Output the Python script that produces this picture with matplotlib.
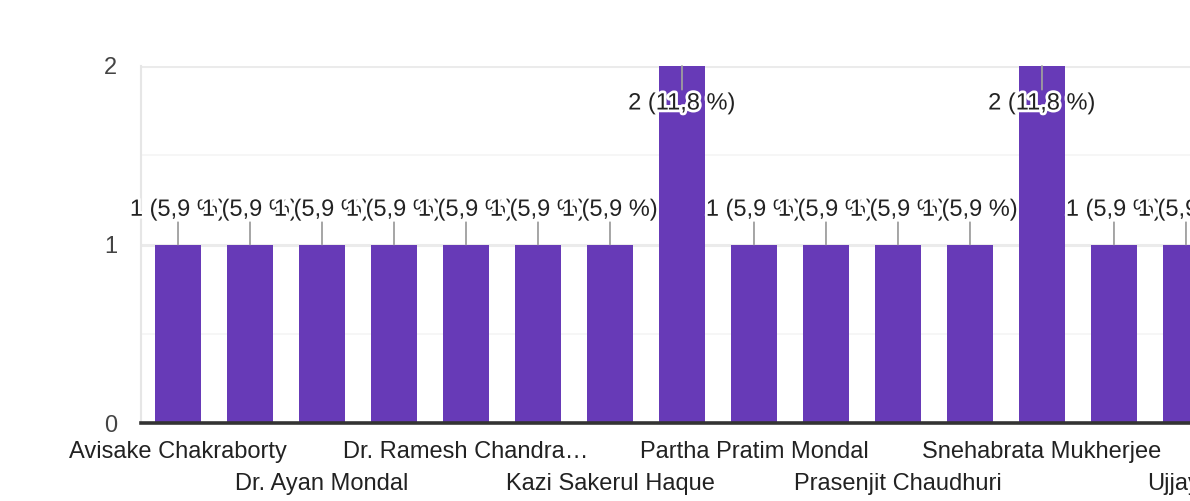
import matplotlib
matplotlib.use('Agg')
import matplotlib.pyplot as plt
import matplotlib.patheffects as pe

plt.rcParams['font.family'] = ['Liberation Sans', 'DejaVu Sans']

# Datos: respuestas por nombre (solo se ven las etiquetas de las barras pares)
counts = [1, 1, 1, 1, 1, 1, 1, 2, 1, 1, 1, 1, 2, 1, 1]
tick_labels = ['Avisake Chakraborty', 'Dr. Ayan Mondal', 'Dr. Ramesh Chandra…',
               'Kazi Sakerul Haque', 'Partha Pratim Mondal', 'Prasenjit Chaudhuri',
               'Snehabrata Mukherjee', 'Ujjayini']
tick_pos = list(range(0, len(counts), 2))

total = sum(counts)
purple = '#673ab7'

fig = plt.figure(figsize=(11.9, 5.01), dpi=100)
ax = fig.add_axes([141 / 1190, 78 / 501, 1 - 141 / 1190, 357 / 501])

x = list(range(len(counts)))
ax.bar(x, counts, width=0.64, color=purple, zorder=2)

ax.set_xlim(-0.514, 14.056)
ax.set_ylim(0, 2)

# rejilla
ax.set_yticks([0, 1, 2])
ax.set_yticks([0.5, 1.5], minor=True)
ax.grid(axis='y', which='major', color='#ebebeb', linewidth=2.2, zorder=0)
ax.grid(axis='y', which='minor', color='#f5f5f5', linewidth=1.2, zorder=0)
ax.axhline(0, color='#333333', linewidth=2.6, zorder=3, clip_on=False)

for s in ['top', 'right', 'bottom']:
    ax.spines[s].set_visible(False)
ax.spines['left'].set_color('#e6e6e6')
ax.spines['left'].set_linewidth(1.5)

ax.tick_params(axis='y', which='both', length=0, pad=17, labelsize=17, labelcolor='#444444')
ax.tick_params(axis='x', length=0, labelsize=17, labelcolor='#222222')
ax.set_xticks(tick_pos)
ax.set_xticklabels(tick_labels)
for i, t in enumerate(ax.xaxis.get_major_ticks()):
    t.set_pad(13 if i % 2 == 0 else 36)

# etiquetas de valor con línea guía
halo = [pe.withStroke(linewidth=4, foreground='white')]
for i, c in enumerate(counts):
    pct = f'{c / total * 100:.1f}'.replace('.', ',')
    label = f'{c} ({pct} %)'
    if c < max(counts):
        off, line_end = 25, 16
    else:
        off, line_end = -27, -17
    ax.annotate('', xy=(i, c), xytext=(0, line_end), textcoords='offset points',
                arrowprops=dict(arrowstyle='-', color='#9e9e9e', lw=1.3,
                                shrinkA=0, shrinkB=0),
                annotation_clip=False, zorder=4)
    ax.annotate(label, xy=(i, c), xytext=(0, off), textcoords='offset points',
                ha='center', va='center', fontsize=17, color='#222222',
                path_effects=halo, annotation_clip=False, zorder=5 + i)

fig.savefig('out.png', dpi=100)
